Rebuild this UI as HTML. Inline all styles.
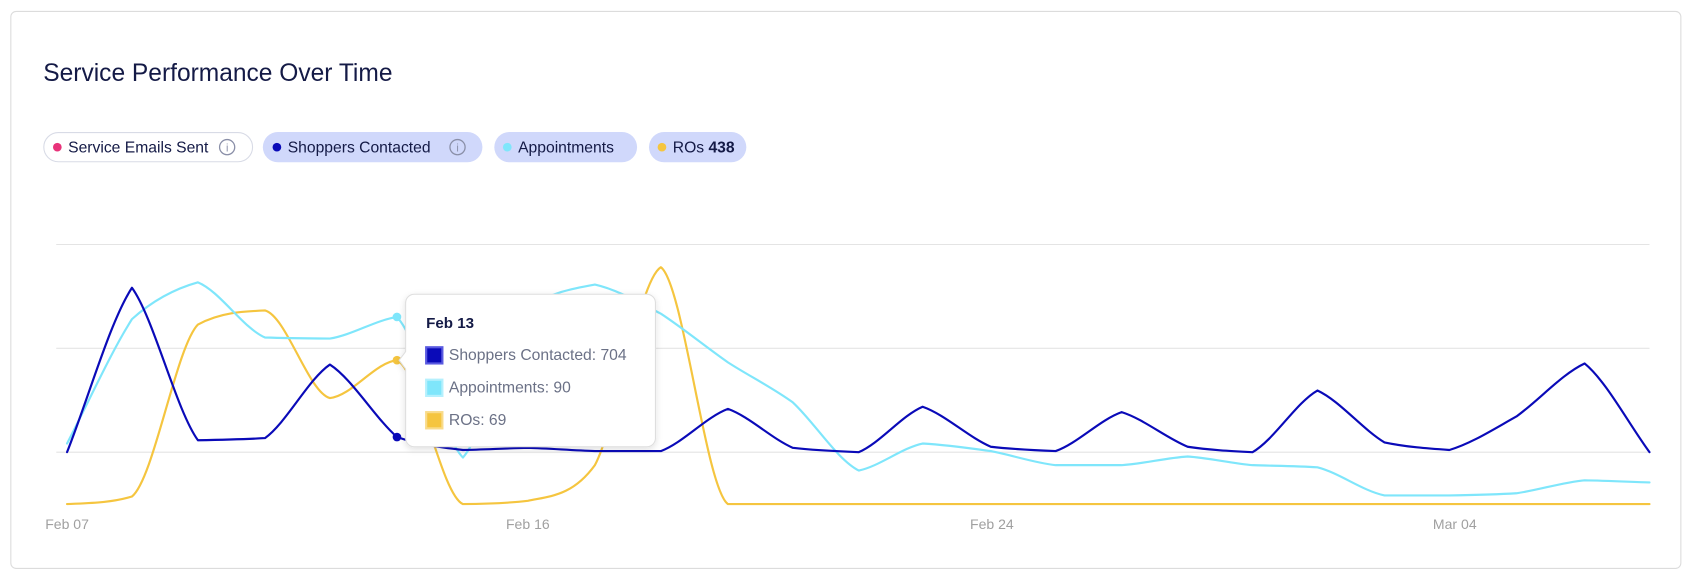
<!DOCTYPE html>
<html><head><meta charset="utf-8"><style>
html,body{margin:0;padding:0;background:#fff;}
svg{display:block;font-family:"Liberation Sans",sans-serif;}
</style></head><body>
<svg id="c" width="1696" height="582" viewBox="0 0 1568 538" xmlns="http://www.w3.org/2000/svg">
<defs><filter id="sh" x="-20%" y="-20%" width="140%" height="140%"><feDropShadow dx="0" dy="2" stdDeviation="3" flood-color="#000" flood-opacity="0.12"/></filter></defs>
<rect x="10" y="10.5" width="1544" height="515" rx="5" fill="#fff" stroke="#dcdcdc"/>
<text x="40" y="75" font-size="22.7" fill="#141a46">Service Performance Over Time</text>
<g font-size="14.5" fill="#141a46">
<rect x="40.5" y="122.5" width="193" height="27" rx="13.5" fill="#fff" stroke="#d8dbe6"/>
<circle cx="53" cy="136" r="4" fill="#e8337a"/>
<text x="63" y="141">Service Emails Sent</text>
<circle cx="210" cy="136" r="7" fill="none" stroke="#8a8fa8" stroke-width="1.2"/><text x="210" y="140" font-size="10" fill="#8a8fa8" text-anchor="middle">i</text>
<rect x="243" y="122" width="203" height="28" rx="14" fill="#d0d8fb"/>
<circle cx="256" cy="136" r="4" fill="#0a0ab8"/>
<text x="266" y="141">Shoppers Contacted</text>
<circle cx="423" cy="136" r="7" fill="none" stroke="#8a8fa8" stroke-width="1.2"/><text x="423" y="140" font-size="10" fill="#8a8fa8" text-anchor="middle">i</text>
<rect x="457" y="122" width="132" height="28" rx="14" fill="#d0d8fb"/>
<circle cx="469" cy="136" r="4" fill="#7fe6fb"/>
<text x="479" y="141">Appointments</text>
<rect x="600" y="122" width="90" height="28" rx="14" fill="#d0d8fb"/>
<circle cx="612" cy="136" r="4" fill="#f5c53f"/>
<text x="622" y="141">ROs <tspan font-weight="bold">438</tspan></text>
</g>
<g stroke="#e4e4e4" stroke-width="1">
<line x1="52" y1="226" x2="1525" y2="226"/><line x1="52" y1="322" x2="1525" y2="322"/><line x1="52" y1="418" x2="1525" y2="418"/>
</g>
<g font-size="13" fill="#a0a0a0" text-anchor="middle">
<text x="62" y="489">Feb 07</text><text x="488" y="489">Feb 16</text><text x="917" y="489">Feb 24</text><text x="1345" y="489">Mar 04</text>
</g>
<g fill="none" stroke-width="2" stroke-linejoin="round" stroke-linecap="round">
<polyline class="s" data-k="0.8" stroke="#f5c53f" points="62,466 122,459 183,300 245,287 305,368 367,333 428,466 488,463 550,430 611,247 673,466 733,466 794,466 853,466 916,466 976,466 1037,466 1098,466 1158,466 1218,466 1280,466 1340,466 1402,466 1465,466 1525,466"/>
<polyline class="s" data-k="0.5" stroke="#7fe6fb" points="62,410 122,295 183,261 245,312 305,313 367,293 428,423 488,285 550,263 611,290 673,335 733,372 794,435 853,410 916,417 976,430 1037,430 1098,422 1158,430 1218,432 1280,458 1340,458 1402,456 1465,444 1525,446"/>
<polyline class="s" data-k="0.4" stroke="#0a0ab8" points="62,418 122,266 183,407 245,405 305,337 367,404 428,416 488,414 550,417 611,417 673,378 733,414 794,418 853,376 916,413 976,417 1037,381 1098,413 1158,418 1218,361 1280,409 1340,416 1402,385 1465,336 1525,418"/>
</g>
<circle cx="367" cy="293" r="4" fill="#7fe6fb"/>
<circle cx="367" cy="333" r="4" fill="#f5c53f"/>
<circle cx="367" cy="404" r="4" fill="#0a0ab8"/>
<g filter="url(#sh)">
<path d="M383,272 H598 a8,8 0 0 1 8,8 V405 a8,8 0 0 1 -8,8 H383 a8,8 0 0 1 -8,-8 V341 L369,333 L375,325 V280 a8,8 0 0 1 8,-8 Z" fill="#fff" stroke="#dedede"/>
</g>
<text x="394" y="303" font-size="14" font-weight="bold" fill="#141a46">Feb 13</text>
<g font-size="14.5" fill="#6b7186">
<rect x="394" y="321" width="15" height="15" fill="#0a0ab8" stroke="#5a5ae0" stroke-width="2"/>
<text x="415" y="333">Shoppers Contacted: 704</text>
<rect x="394" y="351" width="15" height="15" fill="#7fe6fb" stroke="#b5f0fd" stroke-width="2"/>
<text x="415" y="363">Appointments: 90</text>
<rect x="394" y="381" width="15" height="15" fill="#f5c53f" stroke="#f9db8a" stroke-width="2"/>
<text x="415" y="393">ROs: 69</text>
</g>
</svg>
<script>
(function(){
var ns="http://www.w3.org/2000/svg";
document.querySelectorAll("polyline.s").forEach(function(pl){
 var k=+pl.getAttribute("data-k");
 var p=pl.getAttribute("points").trim().split(/\s+/).map(function(s){var a=s.split(",");return[+a[0],+a[1]];});
 var n=p.length,d=[],m=[];
 for(var i=0;i<n-1;i++)d.push((p[i+1][1]-p[i][1])/(p[i+1][0]-p[i][0]));
 m[0]=d[0];m[n-1]=d[n-2];
 for(i=1;i<n-1;i++){ if(d[i-1]*d[i]<=0)m[i]=0; else m[i]=(d[i-1]+d[i])/2; }
 for(i=0;i<n-1;i++){ if(d[i]==0){m[i]=0;m[i+1]=0;continue;} var a=m[i]/d[i],b=m[i+1]/d[i],s=a*a+b*b; if(s>9){var t=3/Math.sqrt(s);m[i]=t*a*d[i];m[i+1]=t*b*d[i];}}
 var str="M"+p[0][0]+","+p[0][1];
 for(i=0;i<n-1;i++){var h=(p[i+1][0]-p[i][0])/3;
  var t0=k*m[i]+(1-k)*d[i], t1=k*m[i+1]+(1-k)*d[i];
  str+=" C"+(p[i][0]+h)+","+(p[i][1]+t0*h)+" "+(p[i+1][0]-h)+","+(p[i+1][1]-t1*h)+" "+p[i+1][0]+","+p[i+1][1];}
 var path=document.createElementNS(ns,"path");
 path.setAttribute("d",str);path.setAttribute("stroke",pl.getAttribute("stroke"));
 pl.parentNode.replaceChild(path,pl);
});
})();
</script>
</body></html>
